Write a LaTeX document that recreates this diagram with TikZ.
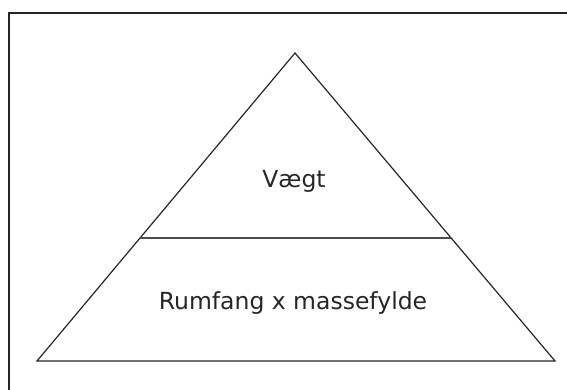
\documentclass[tikz,border=0pt]{standalone}
\usepackage{fontspec}
\setmainfont{DejaVu Sans}
\usetikzlibrary{calc}

\begin{document}
\begin{tikzpicture}[x=1pt, y=-1pt, line width=1.2pt,
    every node/.style={font=\fontsize{23.5}{28}\selectfont, text=black!85}]
  \useasboundingbox (0,0) rectangle (567,390);

  % open frame, cut off at right and bottom
  \draw[black!85] (9,392) -- (9,13) -- (569,13);

  \coordinate (top) at (295,53);
  \coordinate (left) at (37,361);
  \coordinate (right) at (555,361);

  \draw[black!85] (left) -- (top) -- (right) -- cycle;

  % dividing line at y = 238
  \coordinate (midL) at ($(top)!{(238-53)/(361-53)}!(left)$);
  \coordinate (midR) at ($(top)!{(238-53)/(361-53)}!(right)$);
  \draw[black!70] (midL) -- (midR);

  \node[anchor=base] (weight) at (294,188) {Vægt};
  \node[anchor=base] (volume) at (293,309) {Rumfang x massefylde};
\end{tikzpicture}
\end{document}
